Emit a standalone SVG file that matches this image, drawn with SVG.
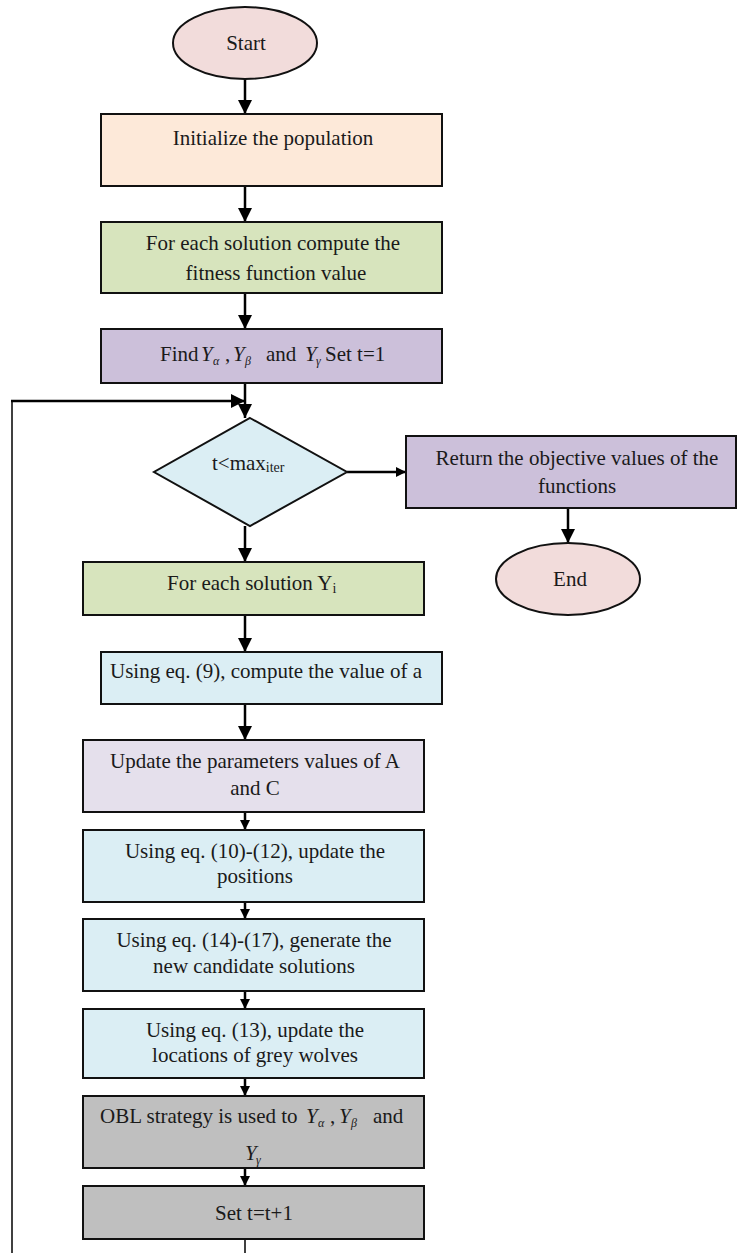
<svg xmlns="http://www.w3.org/2000/svg" width="737" height="1253" viewBox="0 0 737 1253">
<style>
.t{font-family:"Liberation Serif","Times New Roman",serif;font-size:21px;fill:#1a1a1a}
.m{font-family:"Liberation Serif","Times New Roman",serif;font-style:italic;font-size:21px;fill:#1a1a1a}
.s{font-family:"Liberation Serif","Times New Roman",serif;font-style:italic;font-size:12px;fill:#1a1a1a}
.box{stroke:#111;stroke-width:2}
.c{stroke:#000;stroke-width:2.5;fill:none}
.cs{stroke:#000;stroke-width:1.5;fill:none}
</style>
<defs>
<marker id="ah" markerUnits="userSpaceOnUse" markerWidth="16" markerHeight="16" refX="14" refY="7" orient="auto"><path d="M0,0 L14,7 L0,14 Z" fill="#000"/></marker>
<marker id="as" markerUnits="userSpaceOnUse" markerWidth="12" markerHeight="12" refX="10" refY="5" orient="auto"><path d="M0,0 L10,5 L0,10 Z" fill="#000"/></marker>
</defs>
<rect width="737" height="1253" fill="#fff"/>
<g id="connectors">
<line class="c" x1="245" y1="79" x2="245" y2="114" marker-end="url(#ah)"/>
<line class="c" x1="245" y1="186" x2="245" y2="222" marker-end="url(#ah)"/>
<line class="c" x1="245" y1="293" x2="245" y2="329" marker-end="url(#ah)"/>
<line class="c" x1="245" y1="383" x2="245" y2="418" marker-end="url(#ah)"/>
<polyline class="cs" points="245,1239 245,1253"/>
<polyline class="cs" points="12,1253 12,401"/>
<line class="c" x1="11" y1="401" x2="245" y2="401" marker-end="url(#ah)"/>
<line class="c" x1="347" y1="472" x2="406" y2="472" marker-end="url(#as)"/>
<line class="c" x1="568" y1="508" x2="568" y2="543" marker-end="url(#ah)"/>
<line class="c" x1="245" y1="526" x2="245" y2="562" marker-end="url(#ah)"/>
<line class="c" x1="245" y1="615" x2="245" y2="652" marker-end="url(#ah)"/>
<line class="c" x1="245" y1="704" x2="245" y2="740" marker-end="url(#ah)"/>
<line class="c" x1="245" y1="812" x2="245" y2="830" marker-end="url(#as)"/>
<line class="c" x1="245" y1="902" x2="245" y2="919" marker-end="url(#as)"/>
<line class="c" x1="245" y1="991" x2="245" y2="1009" marker-end="url(#as)"/>
<line class="c" x1="245" y1="1078" x2="245" y2="1096" marker-end="url(#as)"/>
<line class="c" x1="245" y1="1168" x2="245" y2="1186" marker-end="url(#as)"/>
</g>
<g id="start">
<ellipse class="box" cx="245" cy="43" rx="72" ry="36" fill="#F2DCDB"/>
<text class="t" x="246" y="50" text-anchor="middle">Start</text>
</g>
<g id="init">
<rect class="box" x="101" y="114" width="341" height="72" fill="#FDE9D9"/>
<text class="t" x="273" y="145" text-anchor="middle">Initialize the population</text>
</g>
<g id="fitness">
<rect class="box" x="101" y="222" width="341" height="71" fill="#D7E4BD"/>
<text class="t" x="273" y="250" text-anchor="middle">For each solution compute the</text>
<text class="t" x="276" y="280" text-anchor="middle">fitness function value</text>
</g>
<g id="find">
<rect class="box" x="101" y="329" width="341" height="54" fill="#CCC0DA"/>
<text class="t" x="160" y="361">Find</text>
<text class="m" x="201" y="361">Y</text><text class="s" x="213" y="365">α</text>
<text class="t" x="225" y="361">,</text>
<text class="m" x="233" y="361">Y</text><text class="s" x="245" y="365">β</text>
<text class="t" x="266" y="361">and</text>
<text class="m" x="305" y="361">Y</text><text class="s" x="316" y="365">γ</text>
<text class="t" x="325" y="361">Set t=1</text>
</g>
<g id="decision">
<polygon class="box" points="250,418 347,472 250,526 154,472" fill="#DBEEF4"/>
<text class="t" x="212" y="470">t&lt;max<tspan font-size="14" dy="2">iter</tspan></text>
</g>
<g id="return">
<rect class="box" x="406" y="436" width="330" height="72" fill="#CCC0DA"/>
<text class="t" x="577" y="465" text-anchor="middle">Return the objective values of the</text>
<text class="t" x="577" y="493" text-anchor="middle">functions</text>
</g>
<g id="end">
<ellipse class="box" cx="568" cy="579" rx="72" ry="36" fill="#F2DCDB"/>
<text class="t" x="570" y="586" text-anchor="middle">End</text>
</g>
<g id="each">
<rect class="box" x="83" y="562" width="341" height="53" fill="#D7E4BD"/>
<text class="t" x="167" y="590">For each solution Y<tspan font-size="14" dy="3">i</tspan></text>
</g>
<g id="eq9">
<rect class="box" x="101" y="652" width="341" height="52" fill="#DBEEF4"/>
<text class="t" x="266" y="678" text-anchor="middle">Using eq. (9), compute the value of a</text>
</g>
<g id="update">
<rect class="box" x="83" y="740" width="341" height="72" fill="#E5E0EC"/>
<text class="t" x="255" y="768" text-anchor="middle">Update the parameters values of A</text>
<text class="t" x="255" y="795" text-anchor="middle">and C</text>
</g>
<g id="eq10">
<rect class="box" x="83" y="830" width="341" height="72" fill="#DBEEF4"/>
<text class="t" x="255" y="858" text-anchor="middle">Using eq. (10)-(12), update the</text>
<text class="t" x="255" y="883" text-anchor="middle">positions</text>
</g>
<g id="eq14">
<rect class="box" x="83" y="919" width="341" height="72" fill="#DBEEF4"/>
<text class="t" x="254" y="947" text-anchor="middle">Using eq. (14)-(17), generate the</text>
<text class="t" x="254" y="973" text-anchor="middle">new candidate solutions</text>
</g>
<g id="eq13">
<rect class="box" x="83" y="1009" width="341" height="69" fill="#DBEEF4"/>
<text class="t" x="255" y="1037" text-anchor="middle">Using eq. (13), update the</text>
<text class="t" x="255" y="1062" text-anchor="middle">locations of grey wolves</text>
</g>
<g id="obl">
<rect class="box" x="83" y="1096" width="341" height="72" fill="#BFBFBF"/>
<text class="t" x="100" y="1123">OBL strategy is used to</text>
<text class="m" x="306" y="1123">Y</text><text class="s" x="318" y="1127">α</text>
<text class="t" x="330" y="1123">,</text>
<text class="m" x="339" y="1123">Y</text><text class="s" x="351" y="1127">β</text>
<text class="t" x="373" y="1123">and</text>
<text class="m" x="245" y="1160">Y</text><text class="s" x="256" y="1164">γ</text>
</g>
<g id="set">
<rect class="box" x="83" y="1186" width="341" height="53" fill="#BFBFBF"/>
<text class="t" x="254" y="1220" text-anchor="middle">Set t=t+1</text>
</g>
</svg>
